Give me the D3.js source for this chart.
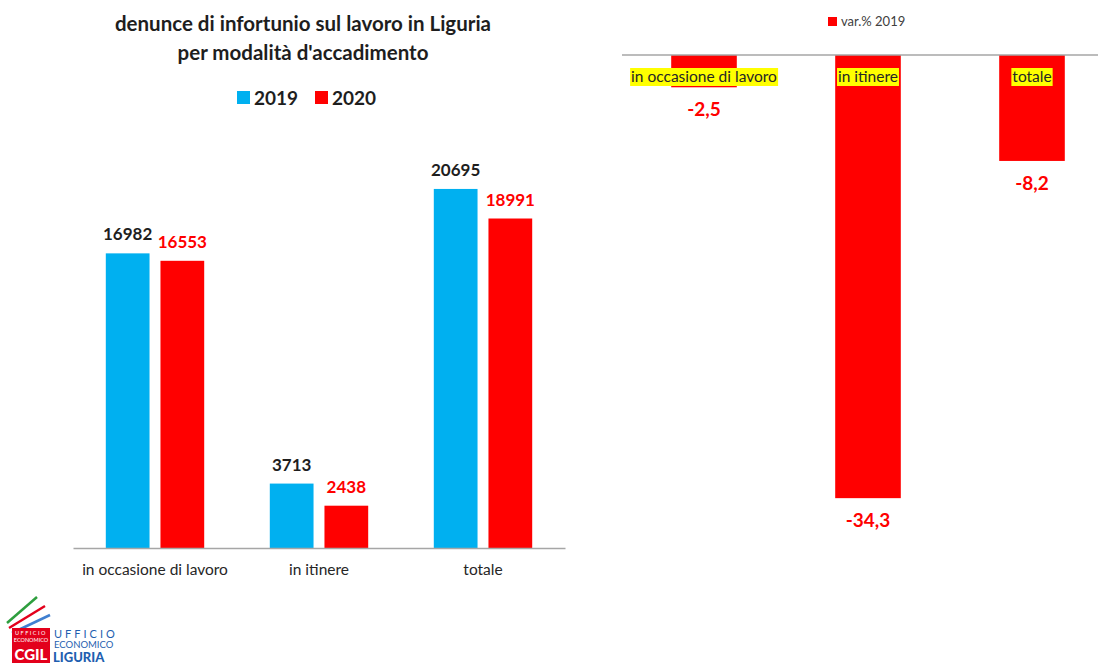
<!DOCTYPE html>
<html>
<head>
<meta charset="utf-8">
<style>
	body { margin: 0; background: #fff; }
	svg { display: block; font-family: Lato, "Open Sans", sans-serif; }
</style>
<script src="https://cdnjs.cloudflare.com/ajax/libs/d3/7.8.5/d3.min.js"></script>
</head>
<body>
<svg id="chart" width="1098" height="663"></svg>
<script>
// data
let categories = ["in occasione di lavoro", "in itinere", "totale"];
let years = ["2019", "2020"];
let values2019 = [16982, 3713, 20695];
let values2020 = [16553, 2438, 18991];
let varPct = [-2.5, -34.3, -8.2];

let blue = "#00b0f0",
	red = "#ff0000",
	dark = "#1e1e1e";

let svg = d3.select("#chart");

// ---------- left chart ----------
let x0 = d3.scaleBand().domain(categories).range([73, 565]);
let x1 = d3.scaleBand().domain(years)
	.range([x0.bandwidth() * 0.2, x0.bandwidth() * 0.8])
	.paddingInner(0.2);
let y = d3.scaleLinear().domain([0, 22000]).range([548, 548 - 22000 * 0.01735]);

let rows = categories.map((c, i) => ({ cat: c, vals: [values2019[i], values2020[i]] }));

svg.append("text")
	.attr("x", 303).attr("y", 31)
	.attr("text-anchor", "middle")
	.attr("font-size", 20.5).attr("font-weight", "bold").attr("fill", dark)
	.text("denunce di infortunio sul lavoro in Liguria");
svg.append("text")
	.attr("x", 303).attr("y", 60)
	.attr("text-anchor", "middle")
	.attr("font-size", 20.5).attr("font-weight", "bold").attr("fill", dark)
	.text("per modalità d'accadimento");

// legend
let leg = svg.append("g");
let legX = [237, 315];
years.forEach((yr, i) => {
	leg.append("rect")
		.attr("x", legX[i]).attr("y", 91).attr("width", 13).attr("height", 13)
		.attr("fill", i == 0 ? blue : red);
	leg.append("text")
		.attr("x", legX[i] + 17).attr("y", 104.5)
		.attr("font-size", 19).attr("font-weight", "bold").attr("fill", dark)
		.text(yr);
});

let groups = svg.append("g").selectAll("g")
	.data(rows).join("g")
	.attr("transform", d => `translate(${x0(d.cat)},0)`);

groups.selectAll("rect")
	.data(d => d.vals.map((v, i) => ({ yr: years[i], v: v })))
	.join("rect")
	.attr("x", d => x1(d.yr))
	.attr("y", d => y(d.v))
	.attr("width", x1.bandwidth())
	.attr("height", d => y(0) - y(d.v))
	.attr("fill", d => d.yr == "2019" ? blue : red);

groups.selectAll("text.val")
	.data(d => d.vals.map((v, i) => ({ yr: years[i], v: v })))
	.join("text")
	.attr("class", "val")
	.attr("x", d => x1(d.yr) + x1.bandwidth() / 2)
	.attr("y", d => y(d.v) - 13)
	.attr("text-anchor", "middle")
	.attr("font-size", 17).attr("font-weight", "bold")
	.attr("fill", d => d.yr == "2019" ? dark : red)
	.text(d => d.v);

let xAxis = svg.append("g")
	.attr("transform", `translate(0,${y(0)})`)
	.call(d3.axisBottom(x0).tickSize(0).tickPadding(16));
xAxis.select(".domain").attr("stroke", "#a6a6a6").attr("stroke-width", 1.5);
xAxis.selectAll("text")
	.attr("font-family", "Lato, sans-serif")
	.attr("font-size", 15.5).attr("fill", "#262626");

// ---------- right chart ----------
let xr = d3.scaleBand().domain(categories).range([622, 1114]);
let yr = d3.scaleLinear().domain([0, -40]).range([55, 55 + 40 * 12.92]);

svg.append("rect")
	.attr("x", 828).attr("y", 17).attr("width", 9).attr("height", 9)
	.attr("fill", red);
svg.append("text")
	.attr("x", 841).attr("y", 26)
	.attr("font-size", 13).attr("fill", "#404040")
	.text("var.% 2019");

let rdata = categories.map((c, i) => ({ cat: c, v: varPct[i] }));

svg.append("g").selectAll("rect")
	.data(rdata).join("rect")
	.attr("x", d => xr(d.cat) + xr.bandwidth() * 0.3)
	.attr("y", yr(0))
	.attr("width", xr.bandwidth() * 0.4)
	.attr("height", d => yr(d.v) - yr(0))
	.attr("fill", red);

svg.append("line")
	.attr("x1", 622).attr("x2", 1098)
	.attr("y1", yr(0)).attr("y2", yr(0))
	.attr("stroke", "#a6a6a6").attr("stroke-width", 1.5);

// category labels with yellow highlight
let rlab = svg.append("g").selectAll("g")
	.data(rdata).join("g");
rlab.append("text")
	.attr("x", d => xr(d.cat) + xr.bandwidth() / 2)
	.attr("y", 82)
	.attr("text-anchor", "middle")
	.attr("font-size", 15.5).attr("fill", "#262626")
	.text(d => d.cat);
rlab.each(function () {
	let g = d3.select(this);
	let bb = g.select("text").node().getBBox();
	g.insert("rect", "text")
		.attr("x", bb.x - 1).attr("y", bb.y + 1)
		.attr("width", bb.width + 2).attr("height", bb.height)
		.attr("fill", "#ffff00");
});

svg.append("g").selectAll("text")
	.data(rdata).join("text")
	.attr("x", d => xr(d.cat) + xr.bandwidth() / 2)
	.attr("y", d => yr(d.v) + 29)
	.attr("text-anchor", "middle")
	.attr("font-size", 19).attr("font-weight", "bold").attr("fill", red)
	.text(d => d3.format(".1f")(d.v).replace(".", ",").replace("\u2212", "-"));

// ---------- logo ----------
let logo = svg.append("g");
[["#2e9e3e", 7, 623, 37, 597], ["#e3001b", 9, 628, 45, 606], ["#3f7fd0", 12, 633, 50, 615]].forEach(l => {
	logo.append("line")
		.attr("x1", l[1]).attr("y1", l[2]).attr("x2", l[3]).attr("y2", l[4])
		.attr("stroke", l[0]).attr("stroke-width", 2.5);
});
logo.append("rect")
	.attr("x", 12).attr("y", 628).attr("width", 38).attr("height", 35)
	.attr("fill", "#e3001b");
logo.append("text").attr("x", 31).attr("y", 635).attr("text-anchor", "middle")
	.attr("font-size", 5.5).attr("fill", "#fff").attr("letter-spacing", 1.5).text("UFFICIO");
logo.append("text").attr("x", 31).attr("y", 642).attr("text-anchor", "middle")
	.attr("font-size", 5.5).attr("fill", "#fff").text("ECONOMICO");
logo.append("text").attr("x", 31).attr("y", 660).attr("text-anchor", "middle")
	.attr("font-size", 15).attr("font-weight", "900").attr("fill", "#fff").text("CGIL");
logo.append("text").attr("x", 54).attr("y", 638)
	.attr("font-size", 11).attr("fill", "#1f5fb0").attr("letter-spacing", 3).text("UFFICIO");
logo.append("text").attr("x", 54).attr("y", 647.5)
	.attr("font-size", 9.5).attr("fill", "#1f5fb0").text("ECONOMICO");
logo.append("text").attr("x", 53).attr("y", 661.5)
	.attr("font-size", 13).attr("font-weight", "900").attr("fill", "#1f5fb0").text("LIGURIA");
</script>
</body>
</html>
